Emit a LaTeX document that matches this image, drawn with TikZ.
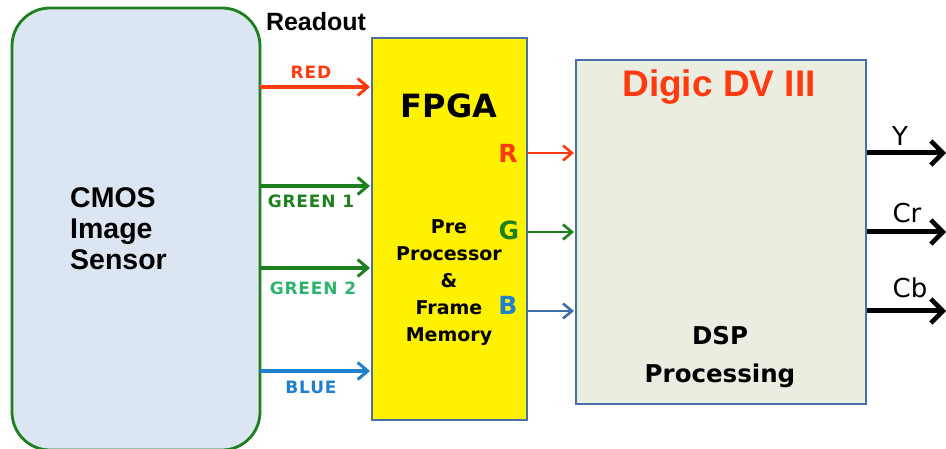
\documentclass[tikz,border=0pt]{standalone}
\usepackage{fontspec}
\setmainfont{Liberation Sans}
\newfontfamily\dvs{DejaVu Sans}
\newfontfamily\dvsw[LetterSpace=5]{DejaVu Sans}
\usetikzlibrary{arrows.meta}
\definecolor{cmosfill}{HTML}{DCE6F2}
\definecolor{cmosedge}{HTML}{1E7F1E}
\definecolor{boxedge}{HTML}{4A6FA5}
\definecolor{dspfill}{HTML}{EAEDDF}
\definecolor{myred}{HTML}{FF3A10}
\definecolor{mygreen}{HTML}{1E7F1E}
\definecolor{mygreen2}{HTML}{2DB36B}
\definecolor{myblue}{HTML}{1F80CF}
\definecolor{bblue}{HTML}{3E6FA8}
\begin{document}
\begin{tikzpicture}[x=1pt,y=-1pt,
  inarrow/.style={line width=3.2pt,-{Straight Barb[length=10pt,width=17pt,line width=3pt]}},
  midarrow/.style={line width=2.6pt,-{Straight Barb[length=9pt,width=15pt,line width=2.6pt]}},
  outarrow/.style={line width=5pt,-{Straight Barb[length=12pt,width=24pt,line width=4.5pt]}},
  lbl/.style={font=\dvsw\bfseries\fontsize{17}{17}\selectfont, inner sep=0pt},
  btxt/.style={font=\bfseries, inner sep=0pt, align=center}]
\useasboundingbox (0,0) rectangle (946,449);
% CMOS
\draw[fill=cmosfill, draw=cmosedge, line width=2.8pt, rounded corners=38pt] (12,8) rectangle (260,450);
\node[btxt, font=\bfseries\fontsize{28.5}{31}\selectfont, align=left, anchor=west] (cmos) at (70,229) {CMOS\\Image\\Sensor};
\node[btxt, font=\bfseries\fontsize{25}{25}\selectfont] (readout) at (316,22) {Readout};
% FPGA
\node[draw=boxedge, fill=yellow, line width=2.4pt, minimum width=155pt, minimum height=382pt, inner sep=0pt] (fpga) at (449.5,229) {};
\node[btxt, font=\dvs\bfseries\fontsize{32}{32}\selectfont] (fpgat) at (449,106) {FPGA};
\node[btxt, font=\dvs\bfseries\fontsize{19}{27}\selectfont] (pre) at (449,283) {Pre\\Processor\\\&\\Frame\\Memory};
\node[btxt, font=\dvs\bfseries\fontsize{25}{25}\selectfont, text=myred] (R) at (508,153) {R};
\node[btxt, font=\dvs\bfseries\fontsize{25}{25}\selectfont, text=mygreen] (G) at (509,230) {G};
\node[btxt, font=\dvs\bfseries\fontsize{25}{25}\selectfont, text=myblue] (B) at (508,305) {B};
% DSP
\node[draw=boxedge, fill=dspfill, line width=2.4pt, minimum width=290pt, minimum height=344pt, inner sep=0pt] (dsp) at (721,232) {};
\node[btxt, font=\bfseries\fontsize{37}{37}\selectfont, text=myred] (digic) at (719,87) {Digic DV III};
\node[btxt, font=\dvs\bfseries\fontsize{24.5}{38}\selectfont] (dspt) at (720,357) {DSP\\Processing};
% input arrows
\coordinate (r0) at (260,87); \coordinate (r1) at (370,87);
\coordinate (g10) at (260,186); \coordinate (g11) at (370,186);
\coordinate (g20) at (260,268); \coordinate (g21) at (370,268);
\coordinate (b0) at (260,371); \coordinate (b1) at (370,371);
\draw[inarrow, myred] (r0) -- (r1);
\draw[inarrow, mygreen] (g10) -- (g11);
\draw[inarrow, mygreen] (g20) -- (g21);
\draw[inarrow, myblue] (b0) -- (b1);
\node[lbl, text=myred] (lred) at (311,72) {RED};
\node[lbl, text=mygreen] (lg1) at (311,201) {GREEN 1};
\node[lbl, text=mygreen2] (lg2) at (313,288) {GREEN 2};
\node[lbl, text=myblue] (lb) at (311,387) {BLUE};
% mid arrows
\coordinate (mr0) at (528,153); \coordinate (mr1) at (574,153);
\coordinate (mg0) at (528,232); \coordinate (mg1) at (574,232);
\coordinate (mb0) at (528,311); \coordinate (mb1) at (574,311);
\draw[midarrow, myred] (mr0) -- (mr1);
\draw[midarrow, mygreen] (mg0) -- (mg1);
\draw[midarrow, bblue] (mb0) -- (mb1);
% outputs
\coordinate (oy0) at (867,153); \coordinate (oy1) at (946,153);
\coordinate (or0) at (867,232); \coordinate (or1) at (946,232);
\coordinate (ob0) at (867,311); \coordinate (ob1) at (946,311);
\draw[outarrow] (oy0) -- (oy1);
\draw[outarrow] (or0) -- (or1);
\draw[outarrow] (ob0) -- (ob1);
\node[inner sep=0pt, font=\dvs\fontsize{26}{26}\selectfont] (ly) at (900,136) {Y};
\node[inner sep=0pt, font=\dvs\fontsize{26}{26}\selectfont] (lcr) at (907,213) {Cr};
\node[inner sep=0pt, font=\dvs\fontsize{26}{26}\selectfont] (lcb) at (910,288) {Cb};
\end{tikzpicture}
\end{document}
